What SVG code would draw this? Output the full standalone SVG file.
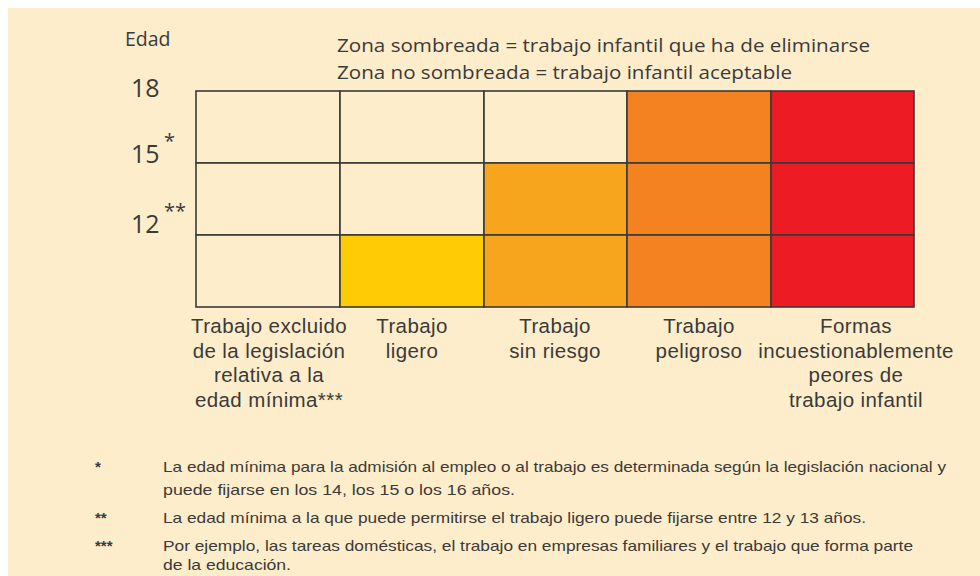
<svg xmlns="http://www.w3.org/2000/svg" width="980" height="576" viewBox="0 0 980 576">
<style>
.t{font-family:"Open Sans","Liberation Sans",sans-serif;fill:#3a3a3a}
.lab{font-family:"Liberation Sans",sans-serif;font-size:20.5px;letter-spacing:0.4px;text-anchor:middle;fill:#3a3a3a}
.fn{font-family:"Liberation Sans",sans-serif;font-size:15px;fill:#3a3a3a}
.c{stroke:#3a3a3a;stroke-width:1.6}
</style>
<rect x="0" y="0" width="980" height="576" fill="#ffffff"/>
<rect x="8" y="8" width="972" height="568" fill="#feedca"/>
<text class="t" x="125" y="46" font-size="19.5">Edad</text>
<text class="t" x="131" y="97" font-size="25">18</text>
<text class="t" x="131" y="163" font-size="25">15</text>
<text class="t" x="164" y="148" font-size="20">*</text>
<text class="t" x="131" y="233" font-size="25">12</text>
<text class="t" x="164" y="218" font-size="20">**</text>
<text class="t" x="337" y="52" font-size="18.5" textLength="533" lengthAdjust="spacingAndGlyphs">Zona sombreada = trabajo infantil que ha de eliminarse</text>
<text class="t" x="337" y="79" font-size="18.5" textLength="455" lengthAdjust="spacingAndGlyphs">Zona no sombreada = trabajo infantil aceptable</text>
<g id="grid">
<g id="col1">
<rect class="c" x="196" y="91" width="144" height="72" fill="#feedca"/>
<rect class="c" x="196" y="163" width="144" height="72" fill="#feedca"/>
<rect class="c" x="196" y="235" width="144" height="72" fill="#feedca"/>
</g>
<g id="col2">
<rect class="c" x="340" y="91" width="144" height="72" fill="#feedca"/>
<rect class="c" x="340" y="163" width="144" height="72" fill="#feedca"/>
<rect class="c" x="340" y="235" width="144" height="72" fill="#fecb05"/>
</g>
<g id="col3">
<rect class="c" x="484" y="91" width="143" height="72" fill="#feedca"/>
<rect class="c" x="484" y="163" width="143" height="72" fill="#f8a51e"/>
<rect class="c" x="484" y="235" width="143" height="72" fill="#f8a51e"/>
</g>
<g id="col4">
<rect class="c" x="627" y="91" width="144" height="72" fill="#f58220"/>
<rect class="c" x="627" y="163" width="144" height="72" fill="#f58220"/>
<rect class="c" x="627" y="235" width="144" height="72" fill="#f58220"/>
</g>
<g id="col5">
<rect class="c" x="771" y="91" width="143" height="72" fill="#ed1c24"/>
<rect class="c" x="771" y="163" width="143" height="72" fill="#ed1c24"/>
<rect class="c" x="771" y="235" width="143" height="72" fill="#ed1c24"/>
</g>
</g>
<g id="labels" class="lab">
<text x="269" y="333">Trabajo excluido</text>
<text x="269" y="358">de la legislación</text>
<text x="269" y="382">relativa a la</text>
<text x="269" y="407">edad mínima***</text>
<text x="412" y="333">Trabajo</text>
<text x="412" y="358">ligero</text>
<text x="555" y="333">Trabajo</text>
<text x="555" y="358">sin riesgo</text>
<text x="699" y="333">Trabajo</text>
<text x="699" y="358">peligroso</text>
<text x="856" y="333">Formas</text>
<text x="856" y="358">incuestionablemente</text>
<text x="856" y="382">peores de</text>
<text x="856" y="407">trabajo infantil</text>
</g>
<g id="footnotes">
<text class="fn" x="95" y="472" font-weight="bold">*</text>
<text class="fn" x="163" y="472" textLength="783" lengthAdjust="spacingAndGlyphs">La edad mínima para la admisión al empleo o al trabajo es determinada según la legislación nacional y</text>
<text class="fn" x="163" y="495" textLength="352" lengthAdjust="spacingAndGlyphs">puede fijarse en los 14, los 15 o los 16 años.</text>
<text class="fn" x="95" y="523" font-weight="bold">**</text>
<text class="fn" x="163" y="523" textLength="703" lengthAdjust="spacingAndGlyphs">La edad mínima a la que puede permitirse el trabajo ligero puede fijarse entre 12 y 13 años.</text>
<text class="fn" x="95" y="551" font-weight="bold">***</text>
<text class="fn" x="163" y="551" textLength="750" lengthAdjust="spacingAndGlyphs">Por ejemplo, las tareas domésticas, el trabajo en empresas familiares y el trabajo que forma parte</text>
<text class="fn" x="163" y="570" textLength="128" lengthAdjust="spacingAndGlyphs">de la educación.</text>
</g>
</svg>
